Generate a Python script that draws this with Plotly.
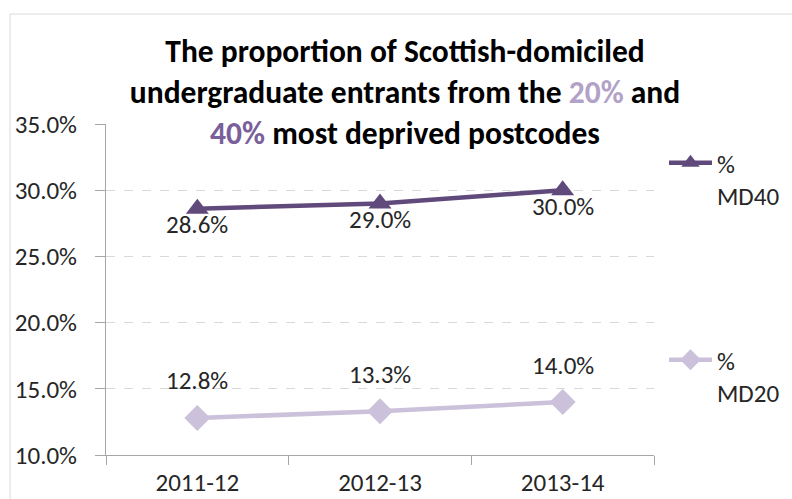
import plotly.graph_objects as go

years = ["2011-12", "2012-13", "2013-14"]
md40 = [28.6, 29.0, 30.0]
md20 = [12.8, 13.3, 14.0]
series_names = ["%<br>MD40", "%<br>MD20"]
y_ticks = [10, 15, 20, 25, 30, 35]

C40 = "#604A7B"
C20 = "#CCC1DA"
FONT = "Carlito, Calibri, Lato, sans-serif"
TXT = "#262626"
FS = 25

fig = go.Figure()
fig.add_trace(go.Scatter(
    x=years, y=md40, name=series_names[0], mode="lines+markers",
    line=dict(color=C40, width=4.5),
    marker=dict(symbol="triangle-up", size=20, color=C40),
    legend="legend",
))
fig.add_trace(go.Scatter(
    x=years, y=md20, name=series_names[1], mode="lines+markers",
    line=dict(color=C20, width=4.5),
    marker=dict(symbol="diamond", size=20, color=C20),
    legend="legend2",
))

annotations = []
for xv, yv in zip(years, md40):
    annotations.append(dict(x=xv, y=yv, text=f"{yv:.1f}%", showarrow=False,
                            yshift=-16, font=dict(size=FS, color=TXT, family=FONT)))
for xv, yv in zip(years, md20):
    annotations.append(dict(x=xv, y=yv, text=f"{yv:.1f}%", showarrow=False,
                            yshift=37, font=dict(size=FS, color=TXT, family=FONT)))

title_text = ("<b>The proportion of Scottish-domiciled<br>"
              "undergraduate entrants from the <span style='color:#B3A2C7'>20%</span> and<br>"
              "<span style='color:#7A5F9A'>40%</span> most deprived postcodes</b>")

L, R, T, B = 106, 138, 124, 44
W, H = 792, 499
pw, ph = W - L - R, H - T - B

fig.update_layout(
    width=W, height=H,
    margin=dict(l=L, r=R, t=T, b=B, autoexpand=False),
    paper_bgcolor="white", plot_bgcolor="white",
    font=dict(family=FONT, size=FS, color=TXT),
    title=dict(text=title_text, x=405 / W, xanchor="center", xref="container",
               y=1 - 62 / H, yanchor="top", yref="container",
               font=dict(size=31.5, color="#000000", family=FONT)),
    showlegend=True,
    legend=dict(x=(664 - L) / pw, xanchor="left", y=(H - B - 140) / ph, yanchor="top",
                valign="top", itemwidth=43, bgcolor="rgba(0,0,0,0)",
                font=dict(size=FS, color=TXT)),
    legend2=dict(x=(664 - L) / pw, xanchor="left", y=(H - B - 337) / ph, yanchor="top",
                 valign="top", itemwidth=43, bgcolor="rgba(0,0,0,0)",
                 font=dict(size=FS, color=TXT)),
    annotations=annotations,
    shapes=[dict(type="rect", xref="paper", yref="paper",
                 x0=(10 - L) / pw, x1=1.6, y0=-0.5, y1=(H - B - 14) / ph,
                 line=dict(color="#D9D9D9", width=1), layer="below")],
)

fig.update_xaxes(
    type="category", range=[-0.5, 2.5], tickson="boundaries",
    showline=True, linecolor="#A6A6A6", linewidth=1,
    ticks="outside", ticklen=9, tickcolor="#A6A6A6",
    showgrid=False, zeroline=False, ticklabelstandoff=5, automargin=False,
    tickfont=dict(size=FS, color=TXT),
)
fig.update_yaxes(
    range=[10, 35], tickvals=y_ticks, ticktext=[f"{v:.1f}%" for v in y_ticks],
    showline=True, linecolor="#A6A6A6", linewidth=1,
    ticks="outside", ticklen=10, tickcolor="#A6A6A6",
    showgrid=True, gridcolor="#D9D9D9", griddash="dash", gridwidth=1,
    zeroline=False, ticklabelstandoff=13, automargin=False,
    tickfont=dict(size=FS, color=TXT),
)

fig.write_html("out.html")
